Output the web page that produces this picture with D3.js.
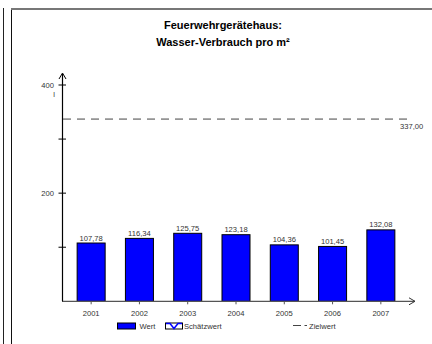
<!DOCTYPE html>
<html><head><meta charset="utf-8">
<script src="https://cdn.jsdelivr.net/npm/d3@7"></script>
<style>body{margin:0;background:#fff}svg{display:block;font-family:Arial,"Liberation Sans",sans-serif}</style>
</head><body><svg id="c" width="432" height="344"></svg>
<script>
const years = ["2001","2002","2003","2004","2005","2006","2007"];
const values = [107.78,116.34,125.75,123.18,104.36,101.45,132.08];
const valueLabels = ["107,78","116,34","125,75","123,18","104,36","101,45","132,08"];
const target = 337;
const targetLabel = "337,00";
const yTicks = [100,200,300,400];
const yTickLabels = {200:"200",400:"400"};
const titleLines = ["Feuerwehrgerätehaus:","Wasser-Verbrauch pro m²"];
const legendItems = ["Wert","Schätzwert","Zielwert"];

const svg = d3.select("#c");
const fs = 7.6, tc = "#333";
// frames
svg.append("line").attr("x1",3.5).attr("x2",3.5).attr("y1",8).attr("y2",344).attr("stroke","#222").attr("stroke-width",1);
svg.append("line").attr("x1",11.5).attr("x2",11.5).attr("y1",8).attr("y2",344).attr("stroke","#111").attr("stroke-width",1);
svg.append("line").attr("x1",11).attr("x2",432).attr("y1",9).attr("y2",9).attr("stroke","#777").attr("stroke-width",2);

const title = svg.append("text").attr("text-anchor","middle").attr("font-weight","bold").attr("font-size",11).attr("fill","#000");
titleLines.forEach((t,i)=>title.append("tspan").attr("x",223).attr("y",29+i*16.5).text(t));

const y = d3.scaleLinear().domain([0,400]).range([301.3,85]);
const x = d3.scaleBand().domain(years).range([67,405]).paddingInner(0.42).paddingOuter(0.21);

// bars
svg.selectAll("rect.bar").data(values).join("rect").attr("class","bar")
  .attr("x",(d,i)=>x(years[i])).attr("width",x.bandwidth())
  .attr("y",d=>y(d)).attr("height",d=>y(0)-y(d))
  .attr("fill","#0000ff").attr("stroke","#000").attr("stroke-width",1);
svg.selectAll("text.vl").data(values).join("text").attr("class","vl")
  .attr("x",(d,i)=>x(years[i])+x.bandwidth()/2).attr("y",d=>y(d)-2.5)
  .attr("text-anchor","middle").attr("font-size",fs).attr("fill",tc).text((d,i)=>valueLabels[i]);

// x axis
const ax = y(0);
svg.append("line").attr("x1",62).attr("x2",415).attr("y1",ax).attr("y2",ax).attr("stroke","#555").attr("stroke-width",1.2);
svg.append("path").attr("d",`M409,${ax-3.5}L415,${ax}L409,${ax+3.5}`).attr("fill","none").attr("stroke","#333").attr("stroke-width",1);
svg.selectAll("line.xt").data(years).join("line").attr("class","xt")
  .attr("x1",d=>x(d)+x.bandwidth()/2).attr("x2",d=>x(d)+x.bandwidth()/2).attr("y1",ax).attr("y2",ax+3).attr("stroke","#555");
svg.selectAll("text.xl").data(years).join("text").attr("class","xl")
  .attr("x",d=>x(d)+x.bandwidth()/2).attr("y",ax+15).attr("text-anchor","middle").attr("font-size",fs).attr("fill",tc).text(d=>d);

// y axis
svg.append("line").attr("x1",62.5).attr("x2",62.5).attr("y1",74).attr("y2",ax).attr("stroke","#000").attr("stroke-width",1.2);
svg.append("path").attr("d","M59,79L62.5,73L66,79").attr("fill","none").attr("stroke","#000").attr("stroke-width",1);
svg.selectAll("line.yt").data(yTicks).join("line").attr("class","yt")
  .attr("x1",58.5).attr("x2",66).attr("y1",d=>y(d)).attr("y2",d=>y(d)).attr("stroke","#000").attr("stroke-width",1);
svg.selectAll("text.yl").data(yTicks.filter(d=>yTickLabels[d])).join("text").attr("class","yl")
  .attr("x",54).attr("y",d=>y(d)+2.7).attr("text-anchor","end").attr("font-size",fs).attr("fill",tc).text(d=>yTickLabels[d]);
svg.append("text").attr("x",54).attr("y",y(400)+12).attr("text-anchor","middle").attr("font-size",fs).attr("fill",tc).text("l");

// target line
svg.append("line").attr("x1",63).attr("x2",409).attr("y1",y(target)).attr("y2",y(target))
  .attr("stroke","#444").attr("stroke-width",1).attr("stroke-dasharray","8,6");
svg.append("text").attr("x",400).attr("y",y(target)+9.5).attr("font-size",fs).attr("fill",tc).text(targetLabel);

// legend
const ly = 326;
svg.append("rect").attr("x",117.5).attr("y",ly-3).attr("width",18).attr("height",6).attr("fill","#0000ff").attr("stroke","#000");
svg.append("text").attr("x",139.5).attr("y",ly+2.7).attr("font-size",fs).attr("fill",tc).text(legendItems[0]);
svg.append("rect").attr("x",165.5).attr("y",ly-3).attr("width",17).attr("height",6).attr("fill","#fff").attr("stroke","#000");
svg.append("path").attr("d",`M166,${ly-2.5}L170,${ly-2.5}L174,${ly+2.5}L178,${ly-2.5}L182,${ly-2.5}`).attr("fill","none").attr("stroke","#0000ff").attr("stroke-width",1.5);
svg.append("text").attr("x",184).attr("y",ly+2.7).attr("font-size",fs).attr("fill",tc).text(legendItems[1]);
svg.append("line").attr("x1",293).attr("x2",301).attr("y1",ly-0.5).attr("y2",ly-0.5).attr("stroke","#444");
svg.append("line").attr("x1",304.5).attr("x2",307).attr("y1",ly-0.5).attr("y2",ly-0.5).attr("stroke","#444");
svg.append("text").attr("x",309).attr("y",ly+2.7).attr("font-size",fs).attr("fill",tc).text(legendItems[2]);
</script></body></html>
